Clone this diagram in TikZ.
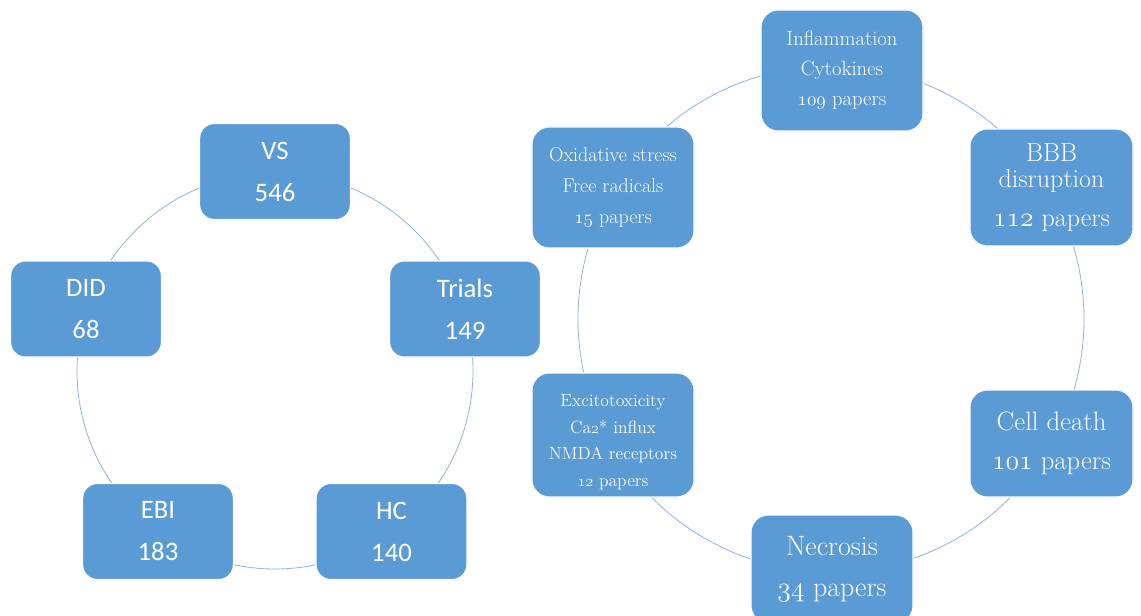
\documentclass[tikz,border=0pt]{standalone}
\usepackage{fontspec}
\newfontfamily\calibrifont{Carlito}
\usetikzlibrary{positioning}
\definecolor{smartblue}{RGB}{91,155,213}
\definecolor{ringline}{RGB}{150,178,212}
\newcommand\osnum[1]{\ensuremath{\mathnormal{#1}}}

\tikzset{
  countbox/.style={rectangle,rounded corners=11pt,fill=smartblue,draw=white,line width=0.8pt,
    text=white,align=center,minimum width=113pt,minimum height=72pt,
    font=\calibrifont\fontsize{20}{31.5}\selectfont},
  paperbox/.style={rectangle,rounded corners=13pt,fill=smartblue,draw=white,line width=0.8pt,
    text=white,align=center,minimum width=121.5pt,minimum height=90.75pt},
  ring/.style={draw=ringline,line width=0.6pt}
}

\begin{document}
\begin{tikzpicture}[x=0.75pt,y=-0.75pt]
    \useasboundingbox (0,0) rectangle (1141,616);
    % rings behind the boxes
    \draw[ring] (275,371) circle [radius=148.5pt];
    \draw[ring] (831,319) circle [radius=189.75pt];
    % left cycle: counts
    \node[countbox] (vs) at (275,171.5) {VS\\546};
    \node[countbox] (did) at (86,309) {DID\\68};
    \node[countbox] (trials) at (465,309) {Trials\\149};
    \node[countbox] (ebi) at (158,531.5) {EBI\\183};
    \node[countbox] (hc) at (391.5,531.5) {HC\\140};
    % right cycle: mechanisms and papers
    \node[paperbox,font=\fontsize{15.5}{22.5}\selectfont] (inflam) at (842,70.5)
      {Inflammation\\Cytokines\\\osnum{109} papers};
    \node[paperbox,font=\fontsize{15}{23}\selectfont] (oxid) at (613,187.5)
      {Oxidative stress\\Free radicals\\\osnum{15} papers};
    \node[paperbox,minimum width=122.25pt,minimum height=87.75pt,font=\fontsize{19.5}{19.5}\selectfont] (bbb) at (1051.5,187.5)
      {BBB\\disruption\\[9.5pt]\osnum{112} papers};
    \node[paperbox,minimum height=93pt,inner ysep=1pt,font=\fontsize{13.2}{20}\selectfont] (excito) at (613,435)
      {\rule{0pt}{20pt}Excitotoxicity\\Ca\osnum{2}* influx\\NMDA receptors\\\osnum{12} papers};
    \node[paperbox,minimum width=122.25pt,minimum height=80.25pt,font=\fontsize{20}{29}\selectfont] (death) at (1051.5,443.5)
      {Cell death\\\osnum{101} papers};
    \node[paperbox,minimum height=81pt,font=\fontsize{21}{31}\selectfont] (necro) at (832,569)
      {Necrosis\\\osnum{34} papers};
\end{tikzpicture}
\end{document}
